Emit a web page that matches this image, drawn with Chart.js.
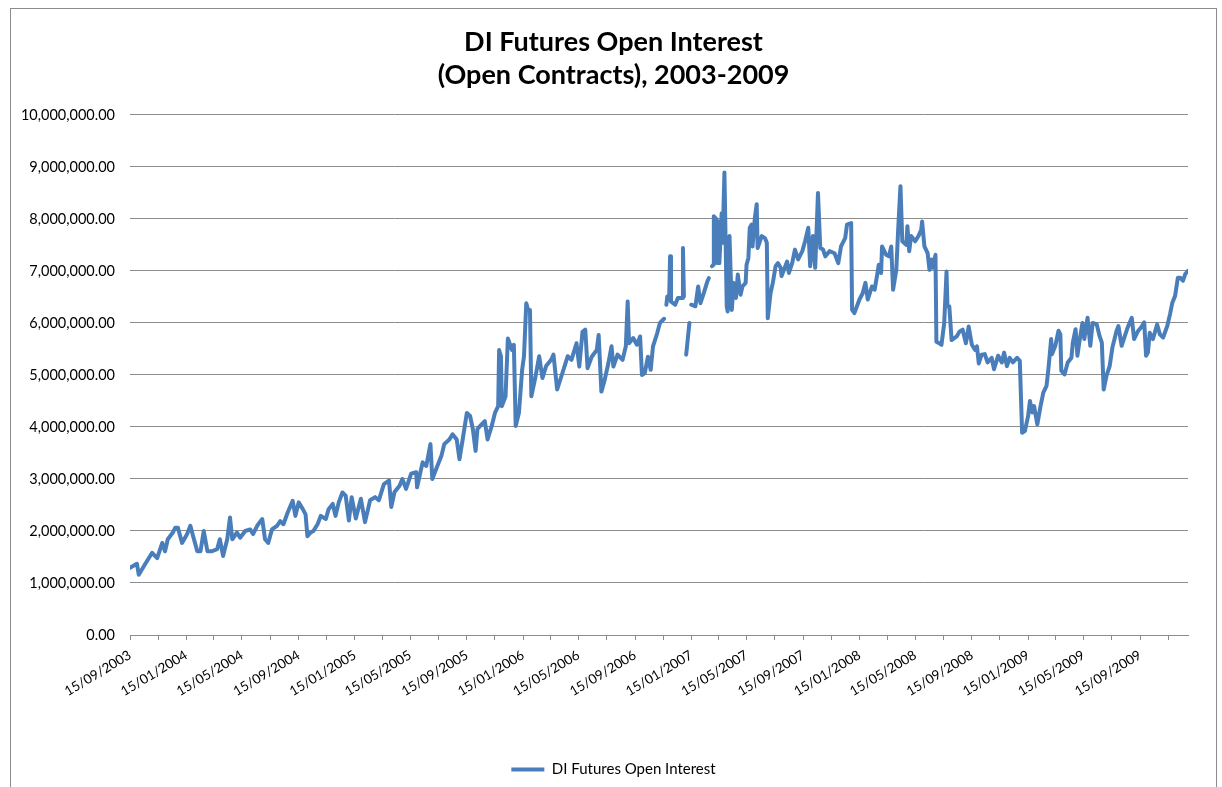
<!DOCTYPE html>
<html>
<head>
<meta charset="utf-8">
<title>DI Futures Open Interest</title>
<script src="https://cdn.jsdelivr.net/npm/chart.js@4.4.1/dist/chart.umd.min.js"></script>
<style>
  html, body { margin: 0; padding: 0; background: #fff; overflow: hidden; }
  #frame { position: absolute; left: 10px; top: 8px; width: 1207px; height: 800px; border: 1px solid #8c8c8c; box-sizing: border-box; }
  #wrap { position: absolute; left: 0; top: 0; width: 1222px; height: 787px; overflow: hidden; }
</style>
</head>
<body>
<div id="frame"></div>
<div id="wrap"><canvas id="chart" width="1227" height="787"></canvas></div>
<script>
'use strict';

// open contracts (null = gap in the series)
const dates2003 = ['2003-09-15','2003-09-30','2003-10-04','2003-10-17','2003-11-02','2003-11-13','2003-11-24','2003-11-30','2003-12-06','2003-12-17','2003-12-22','2003-12-28'];
const values2003 = [1290000,1370000,1160000,1350000,1580000,1480000,1770000,1610000,1840000,1970000,2060000,2060000];

const dates2004 = ['2004-01-06','2004-01-17','2004-01-24','2004-01-30','2004-02-08','2004-02-15','2004-02-22','2004-03-01','2004-03-11','2004-03-22','2004-03-28','2004-04-04','2004-04-13','2004-04-19','2004-04-24','2004-05-04','2004-05-11','2004-05-22','2004-06-02','2004-06-08','2004-06-17','2004-06-28','2004-07-04','2004-07-11','2004-07-19','2004-07-30','2004-08-06','2004-08-13','2004-08-22','2004-09-02','2004-09-08','2004-09-15','2004-09-24','2004-09-30','2004-10-04','2004-10-11','2004-10-17','2004-10-26','2004-11-02','2004-11-13','2004-11-19','2004-11-28','2004-12-04','2004-12-11','2004-12-19','2004-12-26'];
const values2004 = [1770000,1940000,2100000,1900000,1610000,1610000,2000000,1610000,1610000,1650000,1840000,1520000,1840000,2260000,1840000,1970000,1870000,2000000,2030000,1940000,2100000,2230000,1840000,1770000,2030000,2100000,2190000,2130000,2350000,2580000,2290000,2550000,2420000,2320000,1900000,1970000,2000000,2130000,2290000,2230000,2420000,2520000,2290000,2550000,2740000,2680000];

const dates2005 = ['2005-01-02','2005-01-08','2005-01-17','2005-01-28','2005-02-06','2005-02-17','2005-02-28','2005-03-08','2005-03-19','2005-03-30','2005-04-04','2005-04-11','2005-04-22','2005-04-28','2005-05-06','2005-05-17','2005-05-28','2005-05-30','2005-06-11','2005-06-19','2005-06-28','2005-07-02','2005-07-13','2005-07-22','2005-07-28','2005-08-08','2005-08-15','2005-08-24','2005-08-30','2005-09-06','2005-09-15','2005-09-22','2005-09-28','2005-10-04','2005-10-08','2005-10-17','2005-10-24','2005-10-30','2005-11-08','2005-11-15','2005-11-22','2005-11-24','2005-11-28','2005-11-30','2005-12-08','2005-12-13','2005-12-22','2005-12-26','2005-12-30'];
const values2005 = [2200000,2650000,2240000,2620000,2170000,2590000,2650000,2590000,2900000,2970000,2460000,2750000,2870000,3000000,2810000,3100000,3130000,2840000,3320000,3250000,3670000,3000000,3250000,3450000,3670000,3760000,3860000,3760000,3380000,3760000,4270000,4210000,3960000,3540000,3960000,4050000,4110000,3760000,4020000,4270000,4400000,5480000,5360000,4400000,4590000,5700000,5480000,5580000,4020000];

const dates2006 = ['2006-01-06','2006-01-13','2006-01-17','2006-01-22','2006-01-26','2006-01-30','2006-02-02','2006-02-11','2006-02-19','2006-02-26','2006-03-06','2006-03-17','2006-03-22','2006-03-30','2006-04-08','2006-04-22','2006-04-30','2006-05-11','2006-05-17','2006-05-24','2006-05-30','2006-06-04','2006-06-13','2006-06-24','2006-06-28','2006-07-04','2006-07-11','2006-07-19','2006-07-26','2006-07-30','2006-08-08','2006-08-19','2006-08-26','2006-08-30','2006-09-02','2006-09-11','2006-09-19','2006-09-26','2006-09-30','2006-10-06','2006-10-13','2006-10-19','2006-10-24','2006-11-02','2006-11-08','2006-11-17','2006-11-20','2006-11-22','2006-11-24','2006-11-28','2006-11-30','2006-12-02','2006-12-11','2006-12-17','2006-12-26','2006-12-28','2006-12-30'];
const values2006 = [4270000,5100000,5360000,6380000,6250000,6250000,4590000,4970000,5360000,4940000,5170000,5290000,5390000,4720000,4970000,5360000,5290000,5610000,5160000,5830000,5870000,5130000,5350000,5480000,5770000,4680000,4900000,5220000,5550000,5160000,5390000,5290000,5550000,6410000,5610000,5710000,5580000,5740000,5000000,5030000,5350000,5100000,5550000,5800000,6000000,6080000,null,6350000,6510000,6450000,7280000,6410000,6350000,6480000,6480000,7440000,6510000];

const dates2007 = ['2007-01-01','2007-01-04','2007-01-11','2007-01-13','2007-01-15','2007-01-24','2007-01-30','2007-02-04','2007-02-11','2007-02-19','2007-02-22','2007-02-25','2007-03-01','2007-03-04','2007-03-05','2007-03-11','2007-03-13','2007-03-15','2007-03-17','2007-03-22','2007-03-24','2007-03-28','2007-04-02','2007-04-04','2007-04-08','2007-04-13','2007-04-17','2007-04-22','2007-04-26','2007-05-02','2007-05-06','2007-05-13','2007-05-15','2007-05-19','2007-05-22','2007-05-26','2007-05-28','2007-06-02','2007-06-06','2007-06-08','2007-06-13','2007-06-17','2007-06-24','2007-06-28','2007-06-30','2007-07-06','2007-07-11','2007-07-17','2007-07-22','2007-07-28','2007-07-30','2007-08-11','2007-08-15','2007-08-22','2007-08-28','2007-09-04','2007-09-13','2007-09-19','2007-09-26','2007-09-30','2007-10-06','2007-10-11','2007-10-17','2007-10-22','2007-10-28','2007-11-02','2007-11-11','2007-11-22','2007-11-30','2007-12-06','2007-12-15','2007-12-19','2007-12-28','2007-12-30'];
const values2007 = [null,5390000,6000000,null,6350000,6320000,6700000,6380000,6570000,6800000,6860000,null,7090000,7120000,8050000,7990000,7150000,7950000,7150000,8110000,7540000,8890000,6320000,6220000,7670000,6250000,6770000,6480000,6930000,6540000,6700000,6770000,7120000,7250000,7830000,7890000,7470000,8020000,8280000,7440000,7570000,7670000,7630000,7540000,6090000,6570000,6770000,7090000,7150000,7060000,6900000,7180000,6960000,7150000,7410000,7220000,7380000,7570000,7830000,7090000,7670000,7060000,8500000,7440000,7410000,7280000,7380000,7340000,7150000,7470000,7630000,7890000,7920000,6250000];

const dates2008 = ['2008-01-04','2008-01-15','2008-01-22','2008-01-28','2008-02-02','2008-02-11','2008-02-17','2008-02-22','2008-02-26','2008-03-02','2008-03-04','2008-03-13','2008-03-19','2008-03-24','2008-03-28','2008-04-04','2008-04-08','2008-04-13','2008-04-17','2008-04-26','2008-04-28','2008-05-02','2008-05-06','2008-05-15','2008-05-22','2008-05-28','2008-05-30','2008-06-04','2008-06-11','2008-06-15','2008-06-19','2008-06-22','2008-06-28','2008-06-30','2008-07-06','2008-07-11','2008-07-17','2008-07-22','2008-07-24','2008-07-28','2008-08-02','2008-08-13','2008-08-19','2008-08-26','2008-09-02','2008-09-08','2008-09-15','2008-09-22','2008-09-26','2008-09-30','2008-10-06','2008-10-13','2008-10-19','2008-10-28','2008-11-02','2008-11-11','2008-11-19','2008-11-24','2008-11-30','2008-12-06','2008-12-13','2008-12-22','2008-12-28'];
const values2008 = [6190000,6450000,6570000,6770000,6450000,6700000,6640000,6900000,7120000,6960000,7470000,7310000,7280000,7470000,6640000,7020000,7790000,8630000,7570000,7500000,7860000,7380000,7670000,7570000,7670000,7790000,7950000,7470000,7340000,7020000,7220000,7060000,7310000,5640000,5610000,5580000,6000000,6990000,6320000,6320000,5670000,5740000,5830000,5870000,5610000,5930000,5580000,5480000,5550000,5220000,5390000,5400000,5240000,5330000,5110000,5370000,5240000,5430000,5170000,5330000,5240000,5330000,5270000];

const dates2009 = ['2009-01-02','2009-01-08','2009-01-15','2009-01-19','2009-01-24','2009-01-28','2009-02-04','2009-02-11','2009-02-17','2009-02-24','2009-02-28','2009-03-02','2009-03-06','2009-03-08','2009-03-15','2009-03-22','2009-03-26','2009-03-28','2009-04-04','2009-04-11','2009-04-19','2009-04-22','2009-04-28','2009-05-02','2009-05-06','2009-05-13','2009-05-17','2009-05-24','2009-05-30','2009-06-04','2009-06-13','2009-06-19','2009-06-24','2009-06-28','2009-07-04','2009-07-11','2009-07-17','2009-07-26','2009-07-30','2009-08-06','2009-08-13','2009-08-19','2009-08-28','2009-09-02','2009-09-11','2009-09-17','2009-09-24','2009-09-28','2009-10-02','2009-10-06','2009-10-13','2009-10-22','2009-10-28','2009-11-04','2009-11-13','2009-11-19','2009-11-24','2009-11-30','2009-12-06','2009-12-11','2009-12-17','2009-12-22','2009-12-28'];
const values2009 = [3890000,3920000,4210000,4500000,4280000,4400000,4050000,4400000,4660000,4790000,5110000,5300000,5690000,5400000,5560000,5850000,5780000,5080000,5010000,5240000,5330000,5620000,5880000,5370000,5620000,6000000,5690000,6100000,5560000,6000000,5970000,5750000,5620000,4720000,4980000,5170000,5530000,5850000,5940000,5560000,5750000,5910000,6100000,5690000,5850000,5910000,6010000,5370000,5430000,5810000,5690000,5970000,5780000,5720000,5940000,6170000,6390000,6520000,6870000,6870000,6810000,6940000,7000000];

// axis ticks: labelled every 4 months, plain tick marks in between
const xTickLabels = ['15/09/2003','15/01/2004','15/05/2004','15/09/2004','15/01/2005','15/05/2005','15/09/2005','15/01/2006','15/05/2006','15/09/2006','15/01/2007','15/05/2007','15/09/2007','15/01/2008','15/05/2008','15/09/2008','15/01/2009','15/05/2009','15/09/2009'];
const xMinorTicks = ['15/11/2003','15/03/2004','15/07/2004','15/11/2004','15/03/2005','15/07/2005','15/11/2005','15/03/2006','15/07/2006','15/11/2006','15/03/2007','15/07/2007','15/11/2007','15/03/2008','15/07/2008','15/11/2008','15/03/2009','15/07/2009','15/11/2009'];
const yTicks = [0,1000000,2000000,3000000,4000000,5000000,6000000,7000000,8000000,9000000,10000000];

const seriesLabel = 'DI Futures Open Interest';
const chartTitle = ['DI Futures Open Interest', '(Open Contracts), 2003-2009'];

function toTime(s) {
  if (s.indexOf('/') > 0) {
    const [d, m, y] = s.split('/').map(Number);
    return Date.UTC(y, m - 1, d);
  }
  const [y, m, d] = s.split('-').map(Number);
  return Date.UTC(y, m - 1, d);
}

function fmtNum(v) {
  const parts = Number(v).toFixed(2).split('.');
  return parts[0].replace(/\B(?=(\d{3})+(?!\d))/g, ',') + '.' + parts[1];
}

const allDates = [].concat(dates2003, dates2004, dates2005, dates2006, dates2007, dates2008, dates2009);
const allValues = [].concat(values2003, values2004, values2005, values2006, values2007, values2008, values2009);
const points = allDates.map((d, i) => ({ x: toTime(d), y: allValues[i] }));

const labelByTime = {};
xTickLabels.forEach(l => { labelByTime[toTime(l)] = l; });
const tickTimes = xTickLabels.concat(xMinorTicks).map(toTime).sort((a, b) => a - b);

const FONT = 'Lato, "Open Sans", sans-serif';
const blue = '#4a7ebb';
const gridGrey = '#8c8c8c';

new Chart(document.getElementById('chart'), {
  type: 'line',
  data: {
    datasets: [{
      label: seriesLabel,
      data: points,
      borderColor: blue,
      backgroundColor: blue,
      borderWidth: 4,
      pointRadius: 0,
      tension: 0,
      spanGaps: false,
      borderJoinStyle: 'round',
      borderCapStyle: 'round'
    }]
  },
  options: {
    responsive: false,
    animation: false,
    devicePixelRatio: 1,
    layout: { padding: { left: 0, right: 0, top: 0, bottom: 0 } },
    plugins: {
      tooltip: { enabled: false },
      title: {
        display: true,
        text: chartTitle,
        color: '#000',
        font: { family: FONT, size: 27, weight: 'bold', lineHeight: 1.22 },
        padding: { top: 26, bottom: 23 }
      },
      legend: {
        position: 'bottom',
        labels: {
          color: '#000',
          font: { family: FONT, size: 15 },
          usePointStyle: true,
          pointStyle: 'line',
          pointStyleWidth: 33,
          padding: 1
        }
      }
    },
    scales: {
      x: {
        type: 'linear',
        min: toTime('15/09/2003'),
        max: toTime(dates2009[dates2009.length - 1]),
        afterBuildTicks: scale => { scale.ticks = tickTimes.map(v => ({ value: v })); },
        afterFit: scale => { scale.height = 126; },
        grid: { drawOnChartArea: false, drawTicks: true, tickLength: 5, color: gridGrey },
        border: { display: true, color: gridGrey },
        ticks: {
          autoSkip: false,
          minRotation: 31,
          maxRotation: 31,
          padding: 7,
          color: '#000',
          font: { family: FONT, size: 13.5 },
          callback: v => labelByTime[v] || ''
        }
      },
      y: {
        min: 0,
        max: 10000000,
        afterBuildTicks: scale => { scale.ticks = yTicks.map(v => ({ value: v })); },
        afterFit: scale => { scale.width = 130; },
        grid: { color: gridGrey, drawTicks: false },
        border: { display: false },
        ticks: {
          padding: 15,
          color: '#000',
          font: { family: FONT, size: 14.5 },
          callback: v => fmtNum(v)
        }
      },
      // empty right-hand strip so the plot ends at the same place while
      // title and legend stay centred on the frame
      yRight: {
        position: 'right',
        min: 0,
        max: 1,
        afterFit: scale => { scale.width = 39; },
        grid: { display: false },
        border: { display: false },
        ticks: { display: false }
      }
    }
  }
});
</script>
</body>
</html>
